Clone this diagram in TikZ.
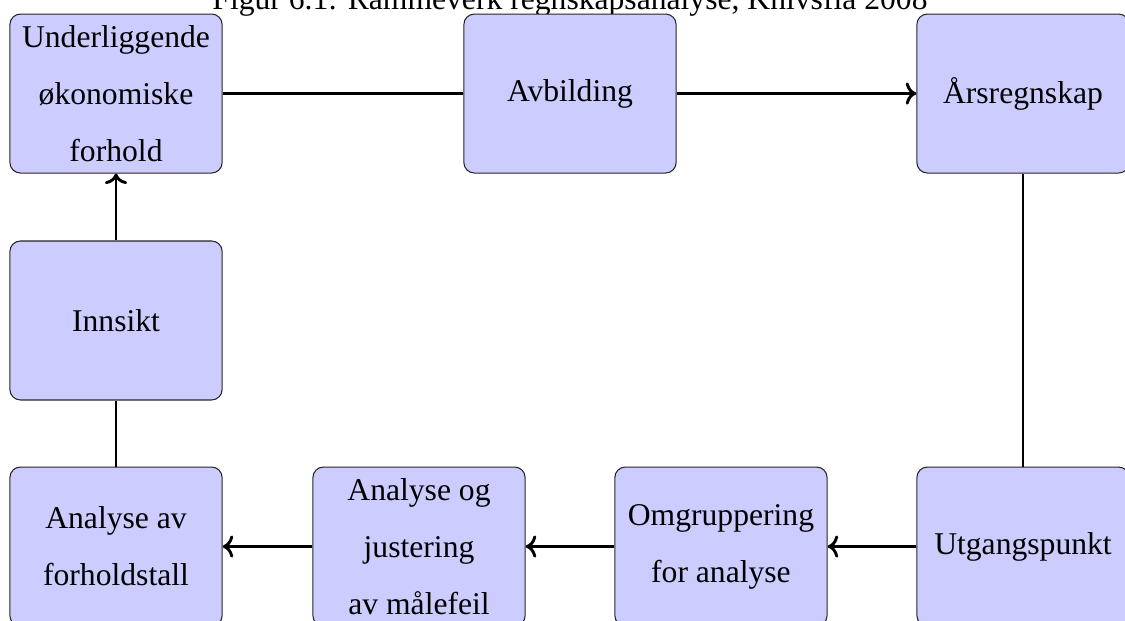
\documentclass[tikz,border=0pt,12pt]{standalone}
\usepackage{fontspec}
\setmainfont{Liberation Serif}
\usepackage{tikz}
\usetikzlibrary{positioning, arrows.meta}
\usepackage{xcolor}
\definecolor{boxfill}{RGB}{204, 204, 255}

\begin{document}
\begin{tikzpicture}[
    stage/.style={rectangle, rounded corners, draw=black!85, fill=boxfill, minimum width=2.83cm, minimum height=2.12cm, inner sep=1pt, align=center, font=\fontsize{12pt}{21.6pt}\selectfont},
    link/.style={line width=1.1pt},
    arrow/.style={->, line width=1.1pt}
]
    \useasboundingbox (0,0) rectangle (15,-8.28);

    % Title
    \node[anchor=base, font=\fontsize{12pt}{14pt}\selectfont] (title) at (7.6,-0.12) {Figur 6.1: Rammeverk regnskapsanalyse, Knivsflå 2008};

    % Top row
    \node[stage] (und) at (1.547,-1.247) {Underliggende\\økonomiske\\forhold};
    \node[stage] (avb) at (7.6,-1.247) {Avbilding};
    \node[stage] (aars) at (13.64,-1.247) {Årsregnskap};

    % Middle
    \node[stage] (inns) at (1.547,-4.273) {Innsikt};

    % Bottom row
    \node[stage] (forh) at (1.547,-7.287) {Analyse av\\forholdstall};
    \node[stage] (just) at (5.587,-7.287) {Analyse og\\justering\\av målefeil};
    \node[stage] (omgr) at (9.613,-7.287) {Omgruppering\\for analyse};
    \node[stage] (utg) at (13.64,-7.287) {Utgangspunkt};

    \draw[link] (und) -- (avb);
    \draw[arrow] (avb) -- (aars);
    \draw[link] (aars) -- (utg);
    \draw[arrow] (utg) -- (omgr);
    \draw[arrow] (omgr) -- (just);
    \draw[arrow] (just) -- (forh);
    \draw[link] (forh) -- (inns);
    \draw[arrow] (inns) -- (und);
\end{tikzpicture}
\end{document}
